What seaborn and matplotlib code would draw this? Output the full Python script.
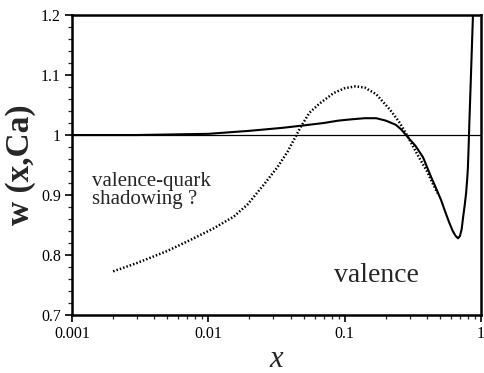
import matplotlib
matplotlib.use("Agg")
import matplotlib.pyplot as plt
import seaborn as sns
import pandas as pd
from matplotlib.ticker import FixedLocator, FixedFormatter, LogLocator, MultipleLocator, NullFormatter

# valence ratio (solid)
val_x = [0.001, 0.003, 0.01, 0.02, 0.035, 0.05, 0.07, 0.09, 0.11, 0.14, 0.17, 0.20,
         0.237, 0.26, 0.281, 0.33, 0.375, 0.43, 0.46, 0.508, 0.55, 0.582, 0.62, 0.65,
         0.678, 0.70, 0.72, 0.738, 0.757, 0.776, 0.79, 0.80, 0.81, 0.82, 0.84, 0.86,
         0.875]
val_y = [1.000, 1.000, 1.002, 1.007, 1.012, 1.016, 1.020, 1.024, 1.026, 1.028, 1.028, 1.024,
         1.017, 1.009, 1.000, 0.982, 0.963, 0.930, 0.915, 0.892, 0.870, 0.855, 0.840, 0.832,
         0.828, 0.832, 0.843, 0.863, 0.882, 0.903, 0.925, 0.945, 0.980, 1.020, 1.090, 1.160,
         1.210]

# valence-quark shadowing (dotted)
sh_x = [0.002, 0.003, 0.005, 0.0078, 0.011, 0.0153, 0.0193, 0.0254, 0.0322,
        0.038, 0.0474, 0.055, 0.065, 0.083, 0.10, 0.12, 0.14, 0.17, 0.215, 0.25,
        0.281, 0.34, 0.40, 0.44, 0.48]
sh_y = [0.773, 0.787, 0.807, 0.828, 0.845, 0.864, 0.884, 0.917, 0.947,
        0.972, 1.013, 1.037, 1.052, 1.070, 1.078, 1.081, 1.079, 1.068, 1.042, 1.022,
        1.003, 0.968, 0.940, 0.920, 0.903]

ref_x = [0.001, 1.0]
ref_y = [1.0, 1.0]

x_ticks = [0.001, 0.01, 0.1, 1]
x_labels = ["0.001", "0.01", "0.1", "1"]
y_ticks = [0.7, 0.8, 0.9, 1.0, 1.1, 1.2]
y_labels = ["0.7", "0.8", "0.9", "1", "1.1", "1.2"]

sns.set_style("ticks")
plt.rcParams['font.family'] = ['Liberation Serif', 'DejaVu Serif']

fig = plt.figure(figsize=(4.84, 3.73), dpi=100)
ax = fig.add_axes([0.149, 0.155, 0.845, 0.805])

df_val = pd.DataFrame({"x": val_x, "y": val_y})
df_sh = pd.DataFrame({"x": sh_x, "y": sh_y})
df_ref = pd.DataFrame({"x": ref_x, "y": ref_y})

sns.lineplot(data=df_ref, x="x", y="y", ax=ax, color="black", lw=0.9, sort=False, estimator=None)
sns.lineplot(data=df_val, x="x", y="y", ax=ax, color="black", lw=1.5, sort=False, estimator=None)
sns.lineplot(data=df_sh, x="x", y="y", ax=ax, color="black", lw=1.8, sort=False, estimator=None,
             linestyle=(0, (0.6, 0.8)))

ax.set_xscale("log")
ax.set_xlim(0.001, 1)
ax.set_ylim(0.7, 1.2)
ax.xaxis.set_major_locator(FixedLocator(x_ticks))
ax.xaxis.set_major_formatter(FixedFormatter(x_labels))
ax.xaxis.set_minor_locator(LogLocator(base=10, subs=range(2, 10)))
ax.xaxis.set_minor_formatter(NullFormatter())
ax.yaxis.set_major_locator(FixedLocator(y_ticks))
ax.yaxis.set_major_formatter(FixedFormatter(y_labels))
ax.yaxis.set_minor_locator(MultipleLocator(0.02))

ax.tick_params(axis="both", which="major", direction="out", length=5, width=1.2,
               labelsize=11.5, colors="black", pad=3)
ax.tick_params(axis="both", which="minor", direction="out", length=3, width=0.9)
ax.tick_params(top=False, right=False, which="both")
for s in ax.spines.values():
    s.set_linewidth(1.8)
    s.set_color("black")

ax.set_xlabel("x", fontsize=22, style="italic", labelpad=2)
ax.set_ylabel("w (x,Ca)", fontsize=24, fontweight="bold", labelpad=4)

ax.text(0.049, 0.415, "valence-quark\nshadowing ?", transform=ax.transAxes,
        fontsize=15, ha="left", va="center", linespacing=0.95)
ax.text(0.743, 0.133, "valence", transform=ax.transAxes, fontsize=20,
        ha="center", va="center")

fig.savefig("out.png", dpi=100)
